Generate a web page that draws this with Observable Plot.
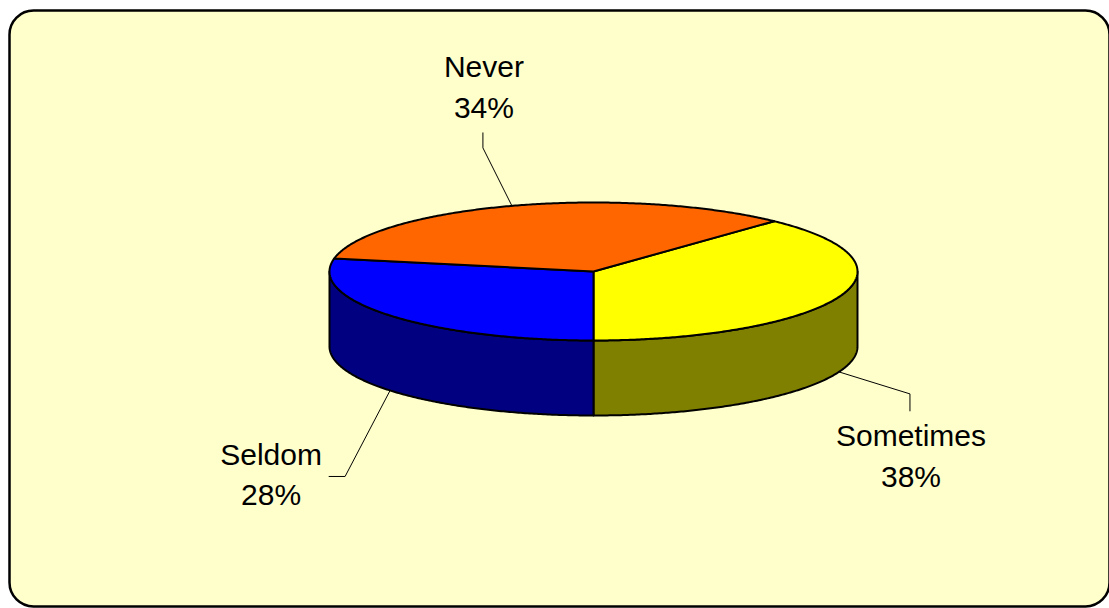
<!DOCTYPE html>
<html><head><meta charset="utf-8">
<script src="https://cdn.jsdelivr.net/npm/d3@7"></script>
<script src="https://cdn.jsdelivr.net/npm/@observablehq/plot@0.6"></script>
<style>html,body{margin:0;padding:0;background:#fff} svg{display:block}</style>
</head><body><div id="chart"></div>
<script>
// ---- data ----
const categories = ["Sometimes", "Seldom", "Never"];
const values = [38, 28, 34];
const pctLabels = ["38%", "28%", "34%"];
const topColors = ["#FFFF00", "#0000FF", "#FF6600"];
const sideColors = ["#808000", "#000080", "#993300"];

// ---- layout ----
const W = 1109, H = 608;
const cx = 593, cy = 271, rx = 264, ry = 69, depth = 75;
const startDeg = 43.2;
// leader/label offsets relative to slice anchor (elbow, end, text baseline)
const labelLayout = {
  "Never":     {elbow: [-29, -58], end: [-29, -73], text: [-28, -88]},
  "Sometimes": {elbow: [71, 22],   end: [71, 39],   text: [72, 115]},
  "Seldom":    {elbow: [-45, 86],  end: [-61, 86],  text: [-119, 115]}
};

const rad = Math.PI / 180;
const arcs = d3.pie().sort(null)
  .startAngle(startDeg * rad).endAngle(startDeg * rad + 2 * Math.PI)(values);

const pt = (a, dz = 0) => ({x: cx + rx * Math.sin(a), y: cy - ry * Math.cos(a) + dz});
function arcPts(a0, a1, dz) {
  const n = Math.max(2, Math.ceil((a1 - a0) / (0.5 * rad)));
  return d3.range(n + 1).map(i => pt(a0 + (a1 - a0) * i / n, dz));
}

const sideMarks = [], topMarks = [], leaderMarks = [], labelData = [];
arcs.forEach((a, i) => {
  const a0 = a.startAngle, a1 = a.endAngle;
  // visible front wall: angles between 90° and 270° (mod 360)
  for (const k of [0, 1]) {
    const lo = Math.max(a0, Math.PI / 2 + k * 2 * Math.PI);
    const hi = Math.min(a1, 3 * Math.PI / 2 + k * 2 * Math.PI);
    if (hi > lo) {
      const poly = [...arcPts(lo, hi, 0), ...arcPts(lo, hi, depth).reverse()];
      sideMarks.push(Plot.line(poly, {x: "x", y: "y", curve: "linear-closed",
        fill: sideColors[i], stroke: "black", strokeWidth: 2, strokeLinejoin: "round"}));
    }
  }
  const top = [{x: cx, y: cy}, ...arcPts(a0, a1, 0)];
  topMarks.push(Plot.line(top, {x: "x", y: "y", curve: "linear-closed",
    fill: topColors[i], stroke: "black", strokeWidth: 2, strokeLinejoin: "round"}));

  const mid = (a0 + a1) / 2;
  const anchor = pt(mid, Math.cos(mid) < 0 ? depth : 0);
  const L = labelLayout[categories[i]];
  const leader = [anchor,
    {x: anchor.x + L.elbow[0], y: anchor.y + L.elbow[1]},
    {x: anchor.x + L.end[0], y: anchor.y + L.end[1]}];
  leaderMarks.push(Plot.line(leader, {x: "x", y: "y", stroke: "black", strokeWidth: 1}));
  labelData.push({x: anchor.x + L.text[0], y: anchor.y + L.text[1],
    text: categories[i] + "\n" + pctLabels[i]});
});

const chart = Plot.plot({
  width: W, height: H,
  marginTop: 0, marginRight: 0, marginBottom: 0, marginLeft: 0,
  x: {domain: [0, W], range: [0, W], axis: null},
  y: {domain: [0, H], range: [0, H], axis: null},
  style: {background: "transparent"},
  marks: [
    Plot.frame({fill: "#FFFFCC", stroke: "black", strokeWidth: 2.5, rx: 24, ry: 24,
      insetLeft: 9, insetTop: 10, insetRight: 0, insetBottom: 2}),
    ...sideMarks,
    ...topMarks,
    ...leaderMarks,
    Plot.text(labelData, {x: "x", y: "y", text: "text", textAnchor: "middle",
      lineAnchor: "bottom", lineHeight: 1.35, fontSize: 30,
      fontFamily: "'Liberation Sans', Arial, sans-serif", fill: "black"})
  ]
});
document.getElementById("chart").appendChild(chart);
</script>
</body></html>
